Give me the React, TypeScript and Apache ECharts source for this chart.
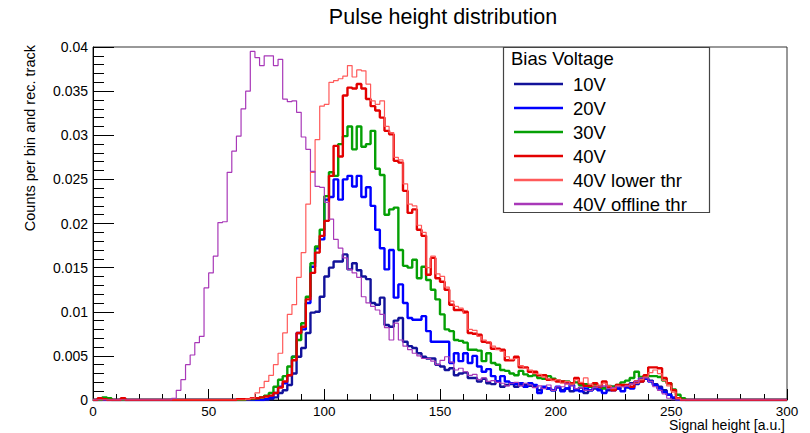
import React, { useEffect, useRef } from "react";
import * as echarts from "echarts";

// ---- Histogram binning (bin low edges start at X_MIN, width BIN_WIDTH) ----
const X_MIN = 0;
const X_MAX = 300;
const BIN_WIDTH = 2;

// ---- Axis tick labels ----
const X_TICKS = [0, 50, 100, 150, 200, 250, 300];
const Y_TICKS = [0, 0.005, 0.01, 0.015, 0.02, 0.025, 0.03, 0.035, 0.04];

// ---- Series names ----
const SERIES_NAMES = ["10V", "20V", "30V", "40V", "40V lower thr", "40V offline thr"];

// ---- Bin contents (150 bins, 0..300, 10 bins per row) ----
const V10 = [
  0, 0, 0, 0, 0, 0, 0, 0, 0, 0,
  0, 0, 0, 0, 0, 0, 0, 0, 0, 0,
  0, 0, 0, 0, 0, 0, 0, 0, 0, 0,
  0, 0, 0, 0, 0, 0, 0, 0, 0.0001, 0.0003,
  0.0008, 0.0011, 0.0017, 0.003, 0.0049, 0.0059, 0.0076, 0.0099, 0.01, 0.0117,
  0.014, 0.015, 0.0157, 0.0157, 0.0165, 0.0148, 0.0155, 0.0147, 0.014, 0.0137,
  0.011, 0.0108, 0.0116, 0.0085, 0.0083, 0.009, 0.0093, 0.0066, 0.0061, 0.0059,
  0.0053, 0.0049, 0.0047, 0.0047, 0.004, 0.0038, 0.0034, 0.0036, 0.0028, 0.003,
  0.0031, 0.0025, 0.0025, 0.0021, 0.0024, 0.0019, 0.0018, 0.0021, 0.0015, 0.0017,
  0.0018, 0.0015, 0.0017, 0.0017, 0.0016, 0.0015, 0.0011, 0.0014, 0.0013, 0.0011,
  0.0014, 0.0011, 0.0013, 0.001, 0.0012, 0.0014, 0.0008, 0.0011, 0.0013, 0.0012,
  0.0014, 0.0011, 0.0015, 0.0013, 0.0016, 0.0014, 0.0019, 0.0018, 0.0021, 0.0025,
  0.0022, 0.0018, 0.0015, 0.0011, 0.0006, 0.0002, 0, 0, 0, 0,
  0, 0, 0, 0, 0, 0, 0, 0, 0, 0,
  0, 0, 0, 0, 0, 0, 0, 0, 0, 0,
];

const V20 = [
  0, 0, 0, 0, 0, 0, 0, 0, 0, 0,
  0, 0, 0, 0, 0, 0, 0, 0, 0, 0,
  0, 0, 0, 0, 0, 0, 0, 0, 0, 0,
  0, 0, 0, 0, 0, 0, 0, 0.0001, 0.0003, 0.0008,
  0.0015, 0.0019, 0.0028, 0.0049, 0.0076, 0.008, 0.011, 0.0151, 0.0172, 0.0182,
  0.0227, 0.023, 0.025, 0.0227, 0.025, 0.0254, 0.0242, 0.0254, 0.023, 0.0241,
  0.022, 0.0193, 0.0172, 0.0148, 0.017, 0.0116, 0.0131, 0.011, 0.0093, 0.0091,
  0.0091, 0.0095, 0.0078, 0.0066, 0.0066, 0.0066, 0.0066, 0.0042, 0.0053, 0.0044,
  0.0053, 0.0042, 0.005, 0.0038, 0.0032, 0.0035, 0.0027, 0.0021, 0.0027, 0.0021,
  0.0019, 0.0018, 0.0019, 0.0015, 0.0019, 0.0017, 0.0008, 0.0015, 0.0013, 0.0011,
  0.0015, 0.001, 0.0013, 0.0017, 0.0011, 0.001, 0.0013, 0.0011, 0.0015, 0.0011,
  0.0008, 0.0015, 0.0011, 0.0013, 0.001, 0.0015, 0.0013, 0.0019, 0.0025, 0.0024,
  0.0021, 0.0017, 0.0013, 0.0009, 0.0006, 0.0003, 0.0001, 0, 0, 0,
  0, 0, 0, 0, 0, 0, 0, 0, 0, 0,
  0, 0, 0, 0, 0, 0, 0, 0, 0, 0,
];

const V30 = [
  0, 0, 0.0003, 0.0002, 0, 0, 0, 0, 0, 0,
  0, 0, 0, 0, 0, 0, 0, 0, 0, 0,
  0, 0, 0, 0, 0, 0, 0, 0, 0, 0,
  0, 0, 0, 0.0001, 0.0001, 0.0002, 0.0003, 0.0005, 0.0008, 0.0015,
  0.0023, 0.0027, 0.0038, 0.0049, 0.0068, 0.0087, 0.0117, 0.0155, 0.0174, 0.0193,
  0.0231, 0.0258, 0.0254, 0.029, 0.0299, 0.031, 0.0284, 0.031, 0.0287, 0.029,
  0.0305, 0.0262, 0.0255, 0.021, 0.0216, 0.0218, 0.017, 0.0152, 0.015, 0.0159,
  0.0138, 0.0151, 0.0136, 0.0125, 0.0114, 0.0097, 0.008, 0.0078, 0.0068, 0.0067,
  0.0065, 0.0057, 0.0057, 0.0056, 0.0044, 0.0053, 0.0042, 0.004, 0.0034, 0.0033,
  0.003, 0.0028, 0.0033, 0.0029, 0.0027, 0.0028, 0.0025, 0.0024, 0.0027, 0.0024,
  0.0022, 0.0021, 0.0021, 0.0019, 0.002, 0.0017, 0.0018, 0.0015, 0.0017, 0.0015,
  0.0013, 0.0016, 0.0015, 0.0017, 0.002, 0.0022, 0.0025, 0.0032, 0.0026, 0.0026,
  0.0027, 0.0027, 0.0026, 0.0022, 0.0019, 0.0012, 0.0006, 0.0002, 0, 0,
  0, 0, 0, 0, 0, 0, 0, 0, 0, 0,
  0, 0, 0, 0, 0, 0, 0, 0, 0, 0,
];

const V40 = [
  0, 0.0002, 0.0001, 0, 0, 0, 0.0002, 0, 0, 0,
  0, 0, 0, 0, 0, 0, 0, 0, 0, 0,
  0, 0, 0, 0, 0, 0, 0, 0, 0, 0,
  0, 0.0001, 0.0001, 0.0001, 0.0002, 0.0002, 0.0003, 0.0004, 0.0005, 0.0008,
  0.0014, 0.0021, 0.0028, 0.0045, 0.0076, 0.0083, 0.0114, 0.0144, 0.0167, 0.0186,
  0.0203, 0.0254, 0.0288, 0.0276, 0.0345, 0.0354, 0.0353, 0.0358, 0.0353, 0.0341,
  0.0333, 0.0328, 0.032, 0.0305, 0.0301, 0.0271, 0.0269, 0.0237, 0.0212, 0.0216,
  0.0193, 0.0186, 0.0142, 0.0161, 0.0138, 0.0134, 0.0125, 0.0108, 0.0102, 0.0102,
  0.01, 0.0076, 0.0075, 0.0074, 0.0066, 0.0065, 0.0058, 0.0058, 0.0057, 0.0045,
  0.0045, 0.0049, 0.0037, 0.0037, 0.0032, 0.0032, 0.0028, 0.0028, 0.0023, 0.0023,
  0.0021, 0.0021, 0.0019, 0.0019, 0.0025, 0.0019, 0.0016, 0.0016, 0.0019, 0.0015,
  0.0021, 0.0015, 0.0011, 0.0017, 0.0017, 0.0017, 0.0015, 0.0021, 0.0021, 0.0028,
  0.0037, 0.0037, 0.0036, 0.0025, 0.0019, 0.0011, 0.0002, 0, 0, 0,
  0, 0, 0, 0, 0, 0, 0, 0, 0, 0,
  0, 0, 0, 0, 0, 0, 0, 0, 0, 0,
];

const V40_LOWER = [
  0, 0, 0, 0, 0, 0, 0, 0, 0, 0,
  0, 0, 0, 0, 0, 0, 0, 0, 0, 0,
  0, 0, 0, 0, 0, 0, 0, 0, 0, 0,
  0, 0, 0, 0.0001, 0.0002, 0.0008, 0.0014, 0.0021, 0.0028, 0.004,
  0.0053, 0.0076, 0.0097, 0.0108, 0.0139, 0.0167, 0.0222, 0.0258, 0.0295, 0.0333,
  0.0335, 0.036, 0.0362, 0.0364, 0.0367, 0.0379, 0.0366, 0.0374, 0.0373, 0.0358,
  0.0339, 0.0335, 0.0339, 0.031, 0.0303, 0.0275, 0.0272, 0.0245, 0.0222, 0.022,
  0.0198, 0.019, 0.015, 0.0163, 0.0143, 0.014, 0.0128, 0.0112, 0.0106, 0.0104,
  0.0098, 0.008, 0.0079, 0.0072, 0.0068, 0.0066, 0.0061, 0.0057, 0.0055, 0.0049,
  0.0046, 0.0047, 0.0039, 0.0036, 0.0034, 0.003, 0.0029, 0.0026, 0.0024, 0.0022,
  0.0023, 0.0019, 0.0021, 0.0018, 0.0023, 0.002, 0.0025, 0.0018, 0.0016, 0.0017,
  0.0019, 0.0016, 0.0013, 0.0016, 0.0015, 0.0016, 0.0018, 0.0019, 0.0023, 0.0026,
  0.0031, 0.0034, 0.003, 0.0022, 0.0016, 0.0009, 0.0002, 0, 0, 0,
  0, 0, 0, 0, 0, 0, 0, 0, 0, 0,
  0, 0, 0, 0, 0, 0, 0, 0, 0, 0,
];

const V40_OFFLINE = [
  0, 0, 0, 0, 0, 0, 0, 0, 0, 0,
  0, 0, 0, 0, 0, 0, 0, 0.0002, 0.0011, 0.0023,
  0.004, 0.0051, 0.0065, 0.0072, 0.0127, 0.0144, 0.0163, 0.0201, 0.0202, 0.0258,
  0.0282, 0.0299, 0.033, 0.035, 0.0395, 0.0388, 0.0379, 0.039, 0.039, 0.0379,
  0.0386, 0.0341, 0.0338, 0.0339, 0.0326, 0.0298, 0.0284, 0.0259, 0.0242, 0.0241,
  0.0224, 0.0205, 0.0182, 0.0172, 0.0161, 0.0148, 0.0144, 0.0139, 0.0117, 0.011,
  0.0106, 0.0102, 0.0097, 0.0082, 0.0068, 0.0087, 0.0068, 0.0061, 0.0057, 0.0053,
  0.005, 0.0047, 0.0047, 0.0044, 0.004, 0.0045, 0.0049, 0.0043, 0.0034, 0.0036,
  0.0032, 0.0028, 0.0029, 0.0023, 0.0025, 0.0021, 0.0022, 0.002, 0.0019, 0.0016,
  0.0019, 0.002, 0.0016, 0.0019, 0.0017, 0.0014, 0.0016, 0.0013, 0.0017, 0.0011,
  0.0015, 0.0015, 0.0019, 0.0016, 0.0013, 0.0014, 0.0011, 0.0011, 0.0014, 0.0015,
  0.0016, 0.0013, 0.0014, 0.0015, 0.0015, 0.0016, 0.0018, 0.0021, 0.0025, 0.0025,
  0.0021, 0.0015, 0.0011, 0.0007, 0.0002, 0, 0, 0, 0, 0,
  0, 0, 0, 0, 0, 0, 0, 0, 0, 0,
  0, 0, 0, 0, 0, 0, 0, 0, 0, 0,
];

// ---- Styles ----
const FONT = '"Liberation Sans", Arial, Helvetica, sans-serif';
const COLORS = ["#12129a", "#0000ff", "#05a005", "#e30000", "#ff5a5a", "#a838b8"];
const WIDTHS = [2.4, 2.4, 2.4, 2.4, 1.2, 1.2];
const VALUES = [V10, V20, V30, V40, V40_LOWER, V40_OFFLINE];

function toSteps(values: number[]): [number, number][] {
  const pts: [number, number][] = values.map((v, i) => [X_MIN + i * BIN_WIDTH, v]);
  pts.push([X_MAX, values[values.length - 1]]);
  return pts;
}

function fmtY(v: number): string {
  return v === 0 ? "0" : String(Number(v.toFixed(3)));
}

export default function App() {
  const ref = useRef<HTMLDivElement>(null);

  useEffect(() => {
    if (!ref.current) return;
    const chart = echarts.init(ref.current, null, { renderer: "svg" });
    const option: any = {
      animation: false,
      backgroundColor: "#ffffff",
      grid: {
        left: 93,
        right: 23,
        top: 47,
        bottom: 33,
        show: true,
        borderColor: "#333",
        borderWidth: 1,
        backgroundColor: "transparent",
      },
      xAxis: {
        type: "value",
        min: X_TICKS[0],
        max: X_TICKS[X_TICKS.length - 1],
        interval: X_TICKS[1] - X_TICKS[0],
        axisLine: { show: true, lineStyle: { color: "#000", width: 1 } },
        axisTick: { show: true, inside: true, length: 11, lineStyle: { color: "#000", width: 1 } },
        minorTick: { show: true, splitNumber: 5, length: 6, lineStyle: { color: "#000", width: 1 } },
        splitLine: { show: false },
        axisLabel: { fontSize: 13.5, color: "#000", fontFamily: FONT, margin: 4 },
      },
      yAxis: {
        type: "value",
        min: Y_TICKS[0],
        max: Y_TICKS[Y_TICKS.length - 1],
        interval: Y_TICKS[1] - Y_TICKS[0],
        axisLine: { show: true, lineStyle: { color: "#000", width: 1 } },
        axisTick: { show: true, inside: true, length: 21, lineStyle: { color: "#000", width: 1 } },
        minorTick: { show: true, splitNumber: 5, length: 11, lineStyle: { color: "#000", width: 1 } },
        splitLine: { show: false },
        axisLabel: { fontSize: 14, color: "#000", fontFamily: FONT, margin: 5, formatter: fmtY },
      },
      legend: {
        orient: "vertical",
        left: 509,
        top: 69,
        itemWidth: 49,
        itemHeight: 2.5,
        itemGap: 4,
        icon: "rect",
        selectedMode: false,
        data: SERIES_NAMES.map((name, k) => ({
          name,
          icon: "rect",
          itemStyle: { color: COLORS[k] },
        })),
        z: 10,
        textStyle: {
          fontSize: 18.5,
          color: "#000",
          fontFamily: FONT,
          lineHeight: 20,
          padding: [0, 0, 0, 5],
        },
      },
      graphic: [
        {
          type: "text",
          x: 443,
          y: 17,
          z: 6,
          style: {
            text: "Pulse height distribution",
            fontSize: 21.5,
            fontFamily: FONT,
            fill: "#000",
            align: "center",
            verticalAlign: "middle",
          },
        },
        {
          type: "text",
          x: 30,
          y: 45,
          rotation: Math.PI / 2,
          z: 6,
          style: {
            text: "Counts per bin and rec. track",
            fontSize: 14.5,
            fontFamily: FONT,
            fill: "#000",
            align: "right",
            verticalAlign: "middle",
          },
        },
        {
          type: "text",
          x: 785,
          y: 425,
          z: 6,
          style: {
            text: "Signal height [a.u.]",
            fontSize: 14,
            fontFamily: FONT,
            fill: "#000",
            align: "right",
            verticalAlign: "middle",
          },
        },
        {
          type: "rect",
          z: 5,
          shape: { x: 503.5, y: 47.5, width: 206, height: 165 },
          style: { fill: "#fff", stroke: "#444", lineWidth: 1.2 },
        },
        {
          type: "text",
          x: 511,
          y: 58,
          z: 6,
          style: {
            text: "Bias Voltage",
            fontSize: 18.5,
            fontFamily: FONT,
            fill: "#000",
            align: "left",
            verticalAlign: "middle",
          },
        },
      ],
      series: SERIES_NAMES.map((name, k) => ({
        name,
        type: "line",
        step: "end",
        symbol: "none",
        showSymbol: false,
        data: toSteps(VALUES[k]),
        lineStyle: { color: COLORS[k], width: WIDTHS[k] },
        itemStyle: { color: COLORS[k] },
        emphasis: { disabled: true },
        z: 2 + k * 0.01,
      })),
    };
    chart.setOption(option);
    return () => chart.dispose();
  }, []);

  return (
    <div
      ref={ref}
      style={{ position: "fixed", left: 0, top: 0, width: 810, height: 433, background: "#fff" }}
    />
  );
}
